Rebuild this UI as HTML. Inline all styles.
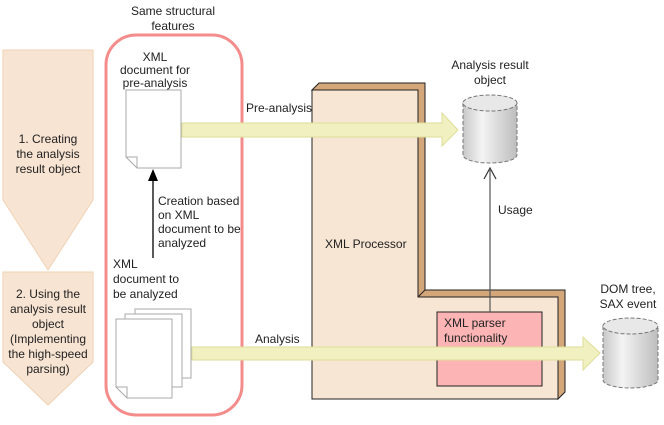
<!DOCTYPE html>
<html><head><meta charset="utf-8"><style>
body{margin:0;background:#fff}
svg text{font-family:"Liberation Sans",Arial,sans-serif;font-size:12px;fill:#222}
</style></head><body>
<svg width="664" height="420" viewBox="0 0 664 420" xmlns="http://www.w3.org/2000/svg">
<defs>
<linearGradient id="cyl" x1="0" x2="1" y1="0" y2="0">
<stop offset="0" stop-color="#c8c8c8"/><stop offset="0.35" stop-color="#f4f4f4"/><stop offset="1" stop-color="#bdbdbd"/>
</linearGradient>
</defs>
<!-- left chevrons -->
<polygon points="3,50 93,50 93,200 48,270 3,200" fill="#f8e4d2" stroke="#f0d2b4"/>
<polygon points="3,272 93,272 93,362 48,405 3,362" fill="#f8e4d2" stroke="#f0d2b4"/>
<text x="48" y="143" text-anchor="middle">1. Creating</text>
<text x="48" y="158" text-anchor="middle">the analysis</text>
<text x="48" y="173" text-anchor="middle">result object</text>
<text x="48" y="298" text-anchor="middle">2. Using the</text>
<text x="48" y="313" text-anchor="middle">analysis result</text>
<text x="48" y="328" text-anchor="middle">object</text>
<text x="48" y="343" text-anchor="middle">(Implementing</text>
<text x="48" y="358" text-anchor="middle">the high-speed</text>
<text x="48" y="373" text-anchor="middle">parsing)</text>
<!-- processor L -->
<polygon points="312,90 319,83 425,83 425,290 565,290 565,392 558,399 558,297 418,297 418,90" fill="#d4a77a" stroke="#222"/>
<polygon points="312,90 418,90 418,297 558,297 558,399 312,399" fill="#f8e6d4" stroke="#222"/>
<line x1="418" y1="297" x2="425" y2="290" stroke="#222"/>
<text x="325" y="248">XML Processor</text>
<rect x="437" y="312" width="105" height="74" fill="#fdb4b4" stroke="#222"/>
<text x="444" y="327">XML parser</text>
<text x="444" y="342">functionality</text>
<!-- pink group -->
<rect x="106" y="35" width="136" height="380" rx="30" fill="none" stroke="#f58c8c" stroke-width="3"/>
<text x="173" y="15" text-anchor="middle">Same structural</text>
<text x="173" y="30" text-anchor="middle">features</text>
<!-- arrows -->
<polygon points="182,123 442,123 442,113 458,130 442,146 442,137 182,137" fill="#f0f0c0" stroke="#dede9a"/>
<polygon points="192,347 583,347 583,337 600,353 583,370 583,360 192,360" fill="#f0f0c0" stroke="#dede9a"/>
<text x="246" y="112">Pre-analysis</text>
<text x="255" y="343">Analysis</text>
<!-- doc 1 -->
<polygon points="126,90 181,90 181,168 137,168 126,157" fill="#fff" stroke="#aaa"/>
<polyline points="126,157 137,157 137,168" fill="none" stroke="#aaa"/>
<text x="155" y="61" text-anchor="middle">XML</text>
<text x="155" y="74" text-anchor="middle">document for</text>
<text x="155" y="87" text-anchor="middle">pre-analysis</text>
<!-- black arrow -->
<line x1="153" y1="258" x2="153" y2="180" stroke="#000" stroke-width="1.3"/>
<polygon points="148,181 153,169 158,181" fill="#000"/>
<text x="158" y="205">Creation based</text>
<text x="158" y="219">on XML</text>
<text x="158" y="233">document to be</text>
<text x="158" y="247">analyzed</text>
<text x="113" y="268">XML</text>
<text x="113" y="283">document to</text>
<text x="113" y="298">be analyzed</text>
<!-- doc stack -->
<rect x="135" y="309" width="56" height="69" fill="#fff" stroke="#aaa"/>
<rect x="125" y="314" width="57" height="73" fill="#fff" stroke="#aaa"/>
<polygon points="116,319 172,319 172,398 127,398 116,387" fill="#fff" stroke="#aaa"/>
<polyline points="116,387 127,387 127,398" fill="none" stroke="#aaa"/>
<!-- cylinders -->
<path d="M463,103 L463,155 A27,8 0 0 0 517,155 L517,103 Z" fill="url(#cyl)" stroke="#777" stroke-dasharray="4,2"/>
<ellipse cx="490" cy="103" rx="27" ry="8" fill="#e8e8e8" stroke="#777" stroke-dasharray="4,2"/>
<text x="490" y="69" text-anchor="middle">Analysis result</text>
<text x="490" y="84" text-anchor="middle">object</text>
<path d="M603,326 L603,380 A27.5,8 0 0 0 658,380 L658,326 Z" fill="url(#cyl)" stroke="#777" stroke-dasharray="4,2"/>
<ellipse cx="630.5" cy="326" rx="27.5" ry="8" fill="#e8e8e8" stroke="#777" stroke-dasharray="4,2"/>
<text x="628" y="293" text-anchor="middle">DOM tree,</text>
<text x="628" y="308" text-anchor="middle">SAX event</text>
<!-- usage arrow -->
<line x1="490" y1="312" x2="490" y2="170" stroke="#555" stroke-width="1.2"/>
<polyline points="484,179 490,168 496,179" fill="none" stroke="#333" stroke-width="1.2"/>
<text x="498" y="214">Usage</text>
</svg>
</body></html>
